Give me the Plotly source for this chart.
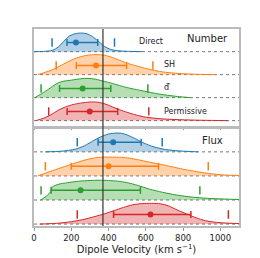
import plotly.graph_objects as go

# ---------------- data ----------------
categories = ["Direct", "SH", "d\u20d7", "Permissive"]
panel_names = ["Number", "Flux"]
colors = ["#1f77b4", "#ff7f0e", "#2ca02c", "#d62728"]
fills = ["rgba(31,119,180,0.35)", "rgba(255,127,14,0.35)",
         "rgba(44,160,44,0.35)", "rgba(214,39,40,0.35)"]
cmb_velocity = 370
x_ticks = [0, 200, 400, 600, 800, 1000]

# summary statistics (median, error bar range, outer markers)
number_median = [225, 333, 261, 299]
number_err_lo = [177, 227, 137, 178]
number_err_hi = [342, 497, 412, 449]
number_tick_lo = [97, 119, 38, 79]
number_tick_hi = [432, 638, 611, 616]

flux_median = [425, 400, 250, 625]
flux_err_lo = [344, 200, 92, 427]
flux_err_hi = [575, 668, 571, 842]
flux_tick_lo = [232, 61, 38, 232]
flux_tick_hi = [688, 935, 890, 1043]

# density curves (velocity, relative density)
number_direct_v = [0, 50, 100, 130, 160, 190, 220, 250, 270, 290, 320, 350, 380, 410, 450, 500, 580]
number_direct_h = [0, 0.01, 0.06, 0.2, 0.45, 0.68, 0.78, 0.81, 0.8, 0.76, 0.62, 0.42, 0.22, 0.1, 0.04, 0.015, 0]
number_sh_v = [20, 60, 100, 140, 180, 220, 260, 300, 340, 380, 420, 460, 500, 540, 600, 660, 720, 800, 880, 970]
number_sh_h = [0, 0.1, 0.22, 0.38, 0.55, 0.7, 0.8, 0.86, 0.87, 0.84, 0.75, 0.62, 0.5, 0.4, 0.27, 0.16, 0.09, 0.04, 0.015, 0]
number_d_v = [5, 40, 80, 120, 150, 200, 250, 290, 330, 380, 420, 470, 520, 580, 640, 700, 770, 840]
number_d_h = [0, 0.17, 0.38, 0.6, 0.7, 0.76, 0.82, 0.84, 0.8, 0.7, 0.62, 0.5, 0.4, 0.3, 0.2, 0.12, 0.05, 0]
number_perm_v = [10, 50, 90, 130, 170, 210, 250, 300, 340, 380, 420, 460, 500, 550, 600, 680, 780, 900, 1040]
number_perm_h = [0, 0.1, 0.25, 0.45, 0.6, 0.7, 0.76, 0.81, 0.8, 0.73, 0.6, 0.47, 0.36, 0.24, 0.15, 0.08, 0.04, 0.015, 0]

flux_direct_v = [60, 150, 220, 270, 320, 360, 400, 440, 470, 500, 540, 580, 630, 690, 760, 880]
flux_direct_h = [0, 0.03, 0.11, 0.25, 0.47, 0.63, 0.74, 0.78, 0.77, 0.7, 0.56, 0.4, 0.24, 0.12, 0.05, 0]
flux_sh_v = [20, 70, 130, 200, 260, 320, 370, 420, 470, 510, 560, 620, 680, 740, 800, 870, 940, 1020, 1100]
flux_sh_h = [0, 0.14, 0.3, 0.48, 0.63, 0.74, 0.78, 0.78, 0.77, 0.74, 0.67, 0.57, 0.48, 0.38, 0.28, 0.18, 0.1, 0.04, 0.02]
flux_d_v = [35, 60, 85, 100, 130, 180, 240, 300, 350, 400, 450, 500, 560, 620, 690, 770, 850, 930, 1020, 1100]
flux_d_h = [0, 0.12, 0.3, 0.55, 0.65, 0.72, 0.78, 0.81, 0.82, 0.81, 0.78, 0.72, 0.6, 0.45, 0.32, 0.2, 0.12, 0.07, 0.04, 0.02]
flux_perm_v = [30, 120, 200, 260, 320, 380, 430, 480, 530, 580, 630, 680, 720, 770, 820, 870, 920, 980, 1040, 1100]
flux_perm_h = [0, 0.03, 0.1, 0.18, 0.3, 0.43, 0.56, 0.69, 0.8, 0.85, 0.86, 0.84, 0.76, 0.58, 0.42, 0.26, 0.14, 0.07, 0.04, 0.02]

number_curves = [(number_direct_v, number_direct_h), (number_sh_v, number_sh_h),
                 (number_d_v, number_d_h), (number_perm_v, number_perm_h)]
flux_curves = [(flux_direct_v, flux_direct_h), (flux_sh_v, flux_sh_h),
               (flux_d_v, flux_d_h), (flux_perm_v, flux_perm_h)]

# ---------------- figure ----------------
FONT = "DejaVu Sans"
fig = go.Figure()

panels = [
    dict(curves=number_curves, med=number_median, lo=number_err_lo, hi=number_err_hi,
         tlo=number_tick_lo, thi=number_tick_hi, xa="x", ya="y"),
    dict(curves=flux_curves, med=flux_median, lo=flux_err_lo, hi=flux_err_hi,
         tlo=flux_tick_lo, thi=flux_tick_hi, xa="x2", ya="y2"),
]

bar_off = 0.4
for p in panels:
    for i in range(4):
        base = -i
        v, h = p["curves"][i]
        fig.add_shape(type="line", xref=p["xa"], yref=p["ya"], x0=0, x1=1100,
                      y0=base, y1=base, line=dict(color="#777777", width=1, dash="dot"),
                      layer="below")
        fig.add_trace(go.Scatter(x=[v[0], v[-1]], y=[base, base], mode="lines",
                                 line=dict(width=0, color=colors[i]),
                                 xaxis=p["xa"], yaxis=p["ya"], showlegend=False,
                                 hoverinfo="skip"))
        fig.add_trace(go.Scatter(x=v, y=[base + hh for hh in h], mode="lines",
                                 line=dict(width=1, color=colors[i], shape="spline", smoothing=0.8),
                                 fill="tonexty", fillcolor=fills[i],
                                 xaxis=p["xa"], yaxis=p["ya"], showlegend=False))
        fig.add_trace(go.Scatter(x=[p["tlo"][i], p["thi"][i]], y=[base + bar_off] * 2,
                                 mode="markers",
                                 marker=dict(symbol="line-ns", size=6,
                                             line=dict(width=1.5, color=colors[i])),
                                 xaxis=p["xa"], yaxis=p["ya"], showlegend=False))
        fig.add_trace(go.Scatter(x=[p["med"][i]], y=[base + bar_off], mode="markers",
                                 marker=dict(size=6, color=colors[i]),
                                 error_x=dict(type="data", symmetric=False,
                                              array=[p["hi"][i] - p["med"][i]],
                                              arrayminus=[p["med"][i] - p["lo"][i]],
                                              color=colors[i], thickness=1.5, width=3.5),
                                 xaxis=p["xa"], yaxis=p["ya"], showlegend=False))

fig.add_shape(type="line", xref="x", yref="paper", x0=cmb_velocity, x1=cmb_velocity,
              y0=0, y1=1, line=dict(color="#333333", width=1.2))

label_x = [551, 686, 688, 686]
label_y = [0.43, 0.44, 0.45, 0.4]
for i, c in enumerate(categories):
    fig.add_annotation(x=label_x[i], y=-i + label_y[i], xref="x", yref="y",
                       text=c, showarrow=False, xanchor="left", yanchor="middle",
                       font=dict(family=FONT, size=8, color="#222222"))
fig.add_annotation(x=1054, y=0.57, xref="x", yref="y", text=panel_names[0],
                   showarrow=False, xanchor="right", yanchor="middle",
                   font=dict(family=FONT, size=10, color="#222222"))
fig.add_annotation(x=1025, y=0.48, xref="x2", yref="y2", text=panel_names[1],
                   showarrow=False, xanchor="right", yanchor="middle",
                   font=dict(family=FONT, size=10, color="#222222"))

axis_common = dict(range=[0, 1100], showgrid=False, zeroline=False, showline=True,
                   mirror=True, linecolor="#bbbbbb", linewidth=1.5,
                   ticks="outside", ticklen=3, tickcolor="#999999",
                   tickvals=x_ticks, tickfont=dict(family=FONT, size=8.5, color="#222222"))
fig.update_layout(
    width=260, height=258,
    margin=dict(l=26, r=29, t=21, b=37),
    plot_bgcolor="white", paper_bgcolor="white",
    xaxis=dict(axis_common, anchor="y", showticklabels=False),
    yaxis=dict(domain=[0.51, 1.0], range=[-3.214, 0.986], showgrid=False, zeroline=False,
               showline=True, mirror=True, linecolor="#bbbbbb", linewidth=1.5,
               showticklabels=False, ticks=""),
    xaxis2=dict(axis_common, anchor="y2", matches="x",
                title=dict(text="Dipole Velocity (km s<sup>\u22121</sup>)", standoff=4,
                           font=dict(family=FONT, size=10, color="#222222"))),
    yaxis2=dict(domain=[0.0, 0.49], range=[-3.08, 0.93], showgrid=False, zeroline=False,
                showline=True, mirror=True, linecolor="#bbbbbb", linewidth=1.5,
                showticklabels=False, ticks=""),
    font=dict(family=FONT),
)

fig.write_html("out.html")
